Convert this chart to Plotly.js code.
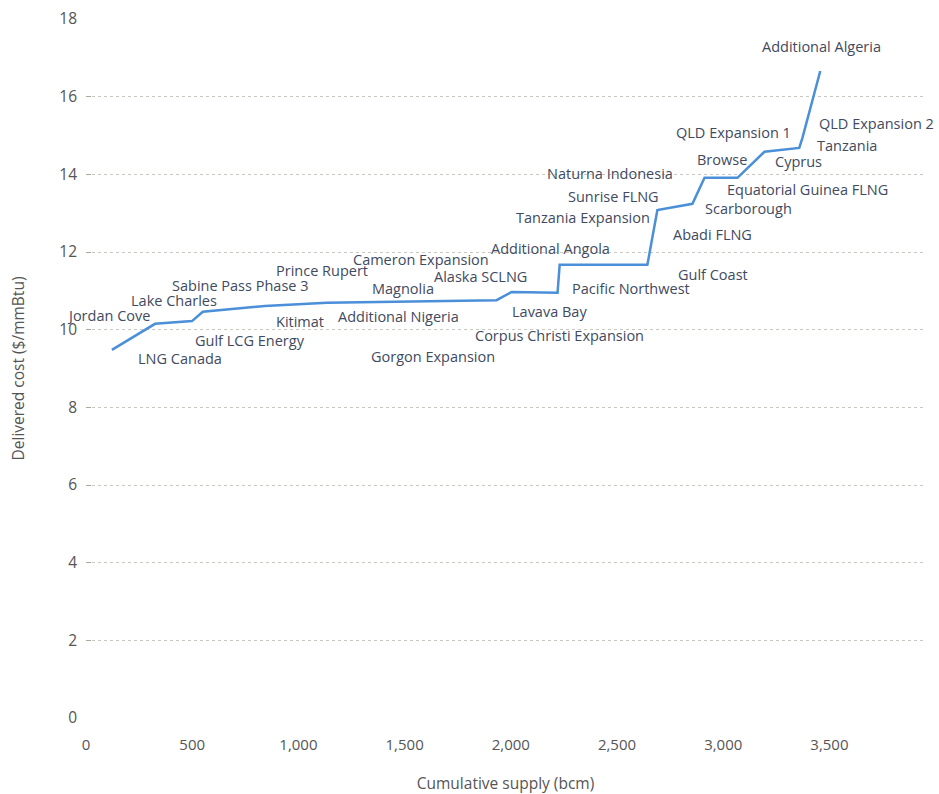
<!DOCTYPE html>
<html>
<head>
<meta charset="utf-8">
<script src="https://cdn.plot.ly/plotly-3.0.1.min.js"></script>
<style>html,body{margin:0;padding:0;background:#fff;}#chart{width:939px;height:794px;}</style>
</head>
<body>
<div id="chart"></div>
<script>
// Supply curve (cumulative supply in bcm, delivered cost in $/mmBtu)
var supplyBcm = [122, 325, 499, 550, 842, 1134, 1933, 2004, 2220, 2230, 2643, 2690, 2855, 2912, 3067, 3194, 3358, 3373, 3457];
var costUsd   = [9.48, 10.15, 10.22, 10.46, 10.61, 10.69, 10.76, 10.97, 10.95, 11.67, 11.67, 13.08, 13.24, 13.91, 13.91, 14.58, 14.68, 14.94, 16.66];

// Project labels and their anchor points in data units
var projectNames = ["Jordan Cove", "Lake Charles", "Sabine Pass Phase 3", "Prince Rupert", "Cameron Expansion",
  "Magnolia", "Alaska SCLNG", "Additional Angola", "Kitimat", "Additional Nigeria", "Gulf LCG Energy",
  "LNG Canada", "Gorgon Expansion", "Lavava Bay", "Corpus Christi Expansion", "Pacific Northwest",
  "Gulf Coast", "Abadi FLNG", "Tanzania Expansion", "Sunrise FLNG", "Naturna Indonesia", "Browse",
  "QLD Expansion 1", "Scarborough", "Equatorial Guinea FLNG", "Cyprus", "Tanzania", "QLD Expansion 2",
  "Additional Algeria"];
var labelX = [104, 416, 729, 1112, 1575, 1493, 1858, 2187, 1007, 1472, 771,
  442, 1632, 2182, 2229, 2568, 2954, 2949, 2338, 2484, 2465, 2992,
  3048, 3118, 3396, 3354, 3584, 3721, 3462];
var labelY = [10.37, 10.76, 11.15, 11.52, 11.80, 11.07, 11.38, 12.10, 10.20, 10.35, 9.73,
  9.27, 9.32, 10.46, 9.84, 11.07, 11.43, 12.46, 12.90, 13.42, 14.01, 14.37,
  15.09, 13.13, 13.62, 14.32, 14.73, 15.30, 17.28];

var xTickVals = [0, 500, 1000, 1500, 2000, 2500, 3000, 3500];
var xTickText = ["0", "500", "1,000", "1,500", "2,000", "2,500", "3,000", "3,500"];
var yTickVals = [0, 2, 4, 6, 8, 10, 12, 14, 16, 18];

var FONT = "'Open Sans', 'DejaVu Sans', sans-serif";

var annotations = projectNames.map(function (name, i) {
  return {
    x: labelX[i], y: labelY[i], xref: 'x', yref: 'y',
    text: name, showarrow: false, borderpad: 0,
    xanchor: 'center', yanchor: 'middle',
    font: {family: FONT, size: 14.5, color: '#414a5e'}
  };
});

var trace = {
  x: supplyBcm, y: costUsd,
  type: 'scatter', mode: 'lines',
  line: {color: '#4a8fd8', width: 2.5},
  cliponaxis: false,
  hoverinfo: 'x+y'
};

var layout = {
  width: 939, height: 794,
  margin: {l: 86, r: 14, t: 19, b: 76},
  paper_bgcolor: '#ffffff', plot_bgcolor: '#ffffff',
  showlegend: false,
  font: {family: FONT, color: '#555'},
  xaxis: {
    range: [0, 3950],
    tickvals: xTickVals, ticktext: xTickText,
    showgrid: false, zeroline: false, showline: false,
    ticks: '', ticklen: 0, ticklabelstandoff: 16,
    tickfont: {family: FONT, size: 15, color: '#555'},
    title: {text: 'Cumulative supply (bcm)', font: {family: FONT, size: 15.5, color: '#555'}, standoff: 35}
  },
  yaxis: {
    range: [0, 18],
    tickvals: yTickVals,
    showgrid: true, gridcolor: '#c8c8c0', griddash: 'dot', gridwidth: 1,
    zeroline: false, showline: false,
    ticks: 'inside', ticklen: 5, tickcolor: '#a8a8a0',
    ticklabelstandoff: 8,
    tickfont: {family: FONT, size: 15.5, color: '#555'},
    title: {text: 'Delivered cost ($/mmBtu)', font: {family: FONT, size: 15.5, color: '#555'}, standoff: 30}
  },
  annotations: annotations
};

Plotly.newPlot('chart', [trace], layout, {displayModeBar: false, staticPlot: true});
</script>
</body>
</html>
